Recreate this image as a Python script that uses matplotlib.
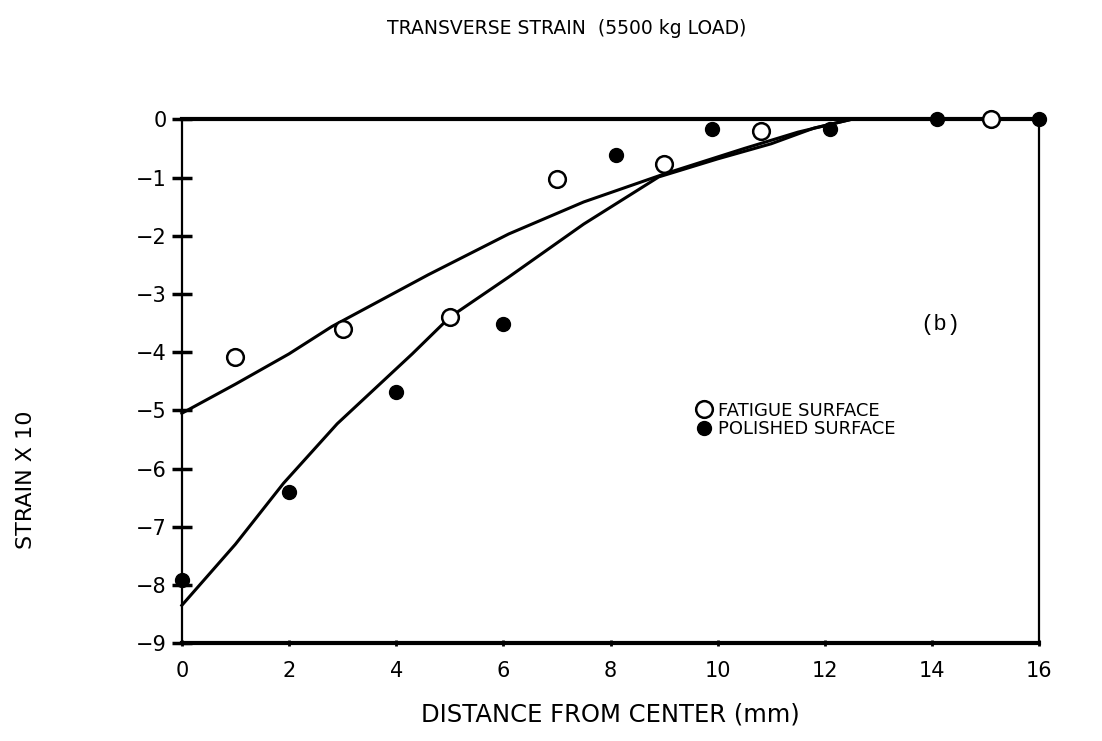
import numpy as np
import matplotlib.pyplot as plt

fatigue_x = [1.0, 3.0, 5.0, 7.0, 9.0, 10.8, 15.1]
fatigue_y = [-4.08, -3.6, -3.4, -1.02, -0.77, -0.2, 0.0]
polished_x = [0.0, 2.0, 4.0, 6.0, 8.1, 9.9, 12.1, 14.1, 16.0]
polished_y = [-7.91, -6.4, -4.69, -3.52, -0.62, -0.16, -0.17, 0.0, 0.0]

# hand drawn fit curves
fat_curve_x = [0.0, 1.0, 2.0, 2.8, 4.6, 6.1, 7.5, 9.0, 10.5, 11.5, 12.5, 16.0]
fat_curve_y = [-5.05, -4.55, -4.03, -3.56, -2.67, -1.97, -1.42, -0.94, -0.5, -0.22, 0.0, 0.0]
pol_curve_x = [0.0, 1.0, 1.9, 2.9, 4.3, 5.0, 6.1, 7.5, 8.9, 10.0, 11.0, 11.8, 12.5]
pol_curve_y = [-8.35, -7.3, -6.25, -5.23, -4.03, -3.4, -2.71, -1.8, -0.99, -0.68, -0.42, -0.15, 0.0]

xticks = [0, 2, 4, 6, 8, 10, 12, 14, 16]
xtick_labels = ['0', '2', '4', '6', '8', '10', '12', '14', '16']
yticks = [0, -1, -2, -3, -4, -5, -6, -7, -8, -9]
ytick_labels = ['0', '\u22121', '\u22122', '\u22123', '\u22124', '\u22125',
                '\u22126', '\u22127', '\u22128', '\u22129']

fig = plt.figure(figsize=(11.02, 7.41), dpi=100)
ax = fig.add_axes([0.165, 0.132, 0.778, 0.707])

ax.plot(fat_curve_x, fat_curve_y, color='black', lw=2.2, clip_on=False)
ax.plot(pol_curve_x, pol_curve_y, color='black', lw=2.2, clip_on=False)
ax.plot(fatigue_x, fatigue_y, 'o', mfc='white', mec='black', mew=1.8, ms=12,
        clip_on=False, zorder=5, label='FATIGUE SURFACE')
ax.plot(polished_x, polished_y, 'o', color='black', ms=10,
        clip_on=False, zorder=5, label='POLISHED SURFACE')

ax.set_xlim(0, 16)
ax.set_ylim(-9, 0)
for s in ['top', 'bottom']:
    ax.spines[s].set_linewidth(3)
for s in ['left', 'right']:
    ax.spines[s].set_linewidth(1.6)

ax.set_xticks(xticks)
ax.set_xticklabels(xtick_labels, fontsize=15)
ax.set_yticks(yticks)
ax.set_yticklabels(ytick_labels, fontsize=15)
ax.tick_params(axis='y', direction='inout', length=14, width=2.5, pad=4)
ax.tick_params(axis='x', direction='inout', length=5, width=2, pad=10)

ax.set_xlabel('DISTANCE FROM CENTER (mm)', fontsize=17.5, labelpad=16)
fig.text(0.024, 0.352, 'STRAIN X 10', rotation=90, fontsize=16, ha='center', va='center')
fig.text(0.514, 0.962, 'TRANSVERSE STRAIN  (5500 kg LOAD)', ha='center', va='center',
         fontsize=13.5)
fig.text(0.835, 0.562, '(b)', fontsize=16, family='Liberation Mono', ha='left', va='center')

ax.legend(loc='upper left', bbox_to_anchor=(0.59, 0.475), frameon=False, fontsize=13,
          handletextpad=0.3, labelspacing=0.02, borderaxespad=0, handlelength=1.0)

fig.savefig('out.png', dpi=100)
